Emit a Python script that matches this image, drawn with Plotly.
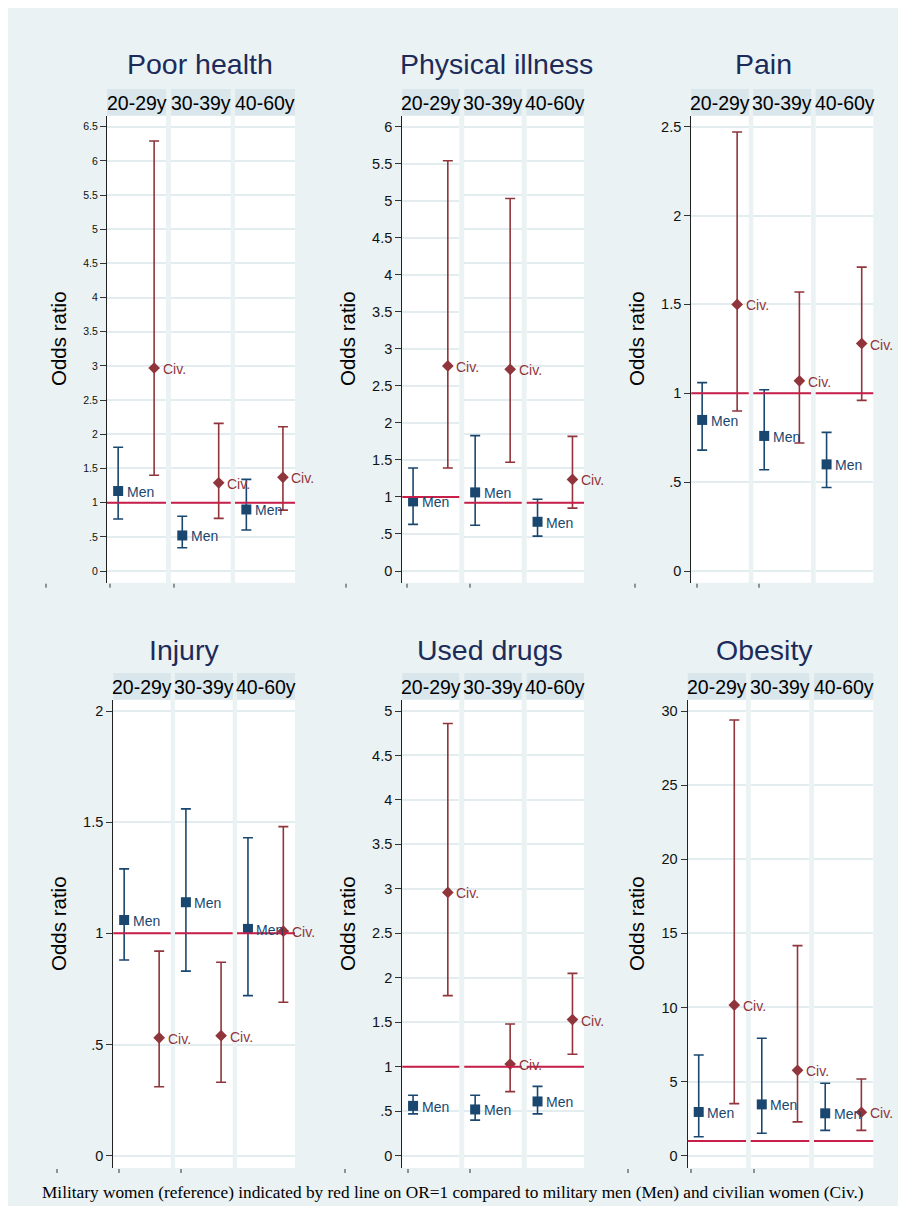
import plotly.graph_objects as go

# ---------------- data ----------------
panels = ["Poor health", "Physical illness", "Pain", "Injury", "Used drugs", "Obesity"]
age_groups = ["20-29y", "30-39y", "40-60y"]

# Odds ratios and 95% CI, military men vs military women (reference)
men_or = [[1.17, 0.52, 0.90], [0.94, 1.15, 0.72], [0.85, 0.76, 0.60],
          [1.06, 1.14, 1.02], [0.56, 0.52, 0.61], [2.95, 3.46, 2.86]]
men_lo = [[0.76, 0.34, 0.60], [0.63, 0.67, 0.51], [0.68, 0.57, 0.47],
          [0.88, 0.83, 0.72], [0.47, 0.40, 0.47], [1.28, 1.51, 1.71]]
men_hi = [[1.81, 0.80, 1.34], [1.39, 1.98, 1.05], [1.06, 1.02, 0.78],
          [1.29, 1.56, 1.43], [0.68, 0.68, 0.78], [6.79, 7.92, 4.89]]

# Odds ratios and 95% CI, civilian women vs military women (reference)
civ_or = [[2.97, 1.29, 1.37], [2.77, 2.95, 1.34], [1.50, 1.07, 1.28],
          [0.53, 0.54, 1.01], [2.96, 1.03, 1.53], [10.16, 5.76, 2.93]]
civ_lo = [[1.40, 0.77, 0.89], [1.39, 1.59, 0.92], [0.90, 0.72, 0.96],
          [0.31, 0.33, 0.69], [1.80, 0.72, 1.14], [3.51, 2.28, 1.71]]
civ_hi = [[6.29, 2.16, 2.11], [5.54, 5.45, 1.97], [2.47, 1.57, 1.71],
          [0.92, 0.87, 1.48], [4.86, 1.48, 2.05], [29.39, 14.17, 5.17]]

group_labels = ["Men", "Civ."]
reference_or = 1

# y-axis ticks per panel (max, step)
tick_max = [6.5, 6, 2.5, 2, 5, 30]
tick_step = [0.5, 0.5, 0.5, 0.5, 0.5, 5]
# axis maximum actually used by each sub-panel (Physical illness quirk)
sub_axis_max = [[6.5, 6.5, 6.5], [6, 6.5, 6.5], [2.5, 2.5, 2.5],
                [2, 2, 2], [5, 5, 5], [30, 30, 30]]

footnote = ("Military women (reference) indicated by red line on OR=1 compared to "
            "military men (Men) and civilian women (Civ.)")

# ---------------- styling / layout ----------------
W, H, OFF = 890, 1198, 8
def px(X):
    return (X - OFF) / W
def py(Y):
    return 1 - (Y - OFF) / H

BG = "#eaf2f3"
STRIP = "#d9e6eb"
NAVY = "#1a476f"
MAROON = "#90353b"
REDLINE = "#c81e4a"
TITLE = "#1c2b5a"
SANS = "Liberation Sans"

# sub-panel x extents (page px) per panel
sub_x = [
    [(107, 166), (171, 230.7), (235, 295)],
    [(402.3, 459.3), (464.3, 521.7), (526.7, 584)],
    [(691.3, 748.7), (753.3, 811), (815.7, 873.3)],
    [(113.3, 170.7), (175, 232.7), (237, 295)],
    [(402.3, 459.3), (464.3, 521.7), (526.7, 584)],
    [(687.7, 746), (750.7, 809.3), (814, 873.3)],
]
# row geometry: plot top, plot bottom, tick-top px, zero px, strip top
rows = [dict(top=116, bot=582.7, ttop=126.7, zero=571, strip=89),
        dict(top=700, bot=1168, ttop=711, zero=1155.7, strip=673)]
title_pos = [(200, 64), (497, 64), (763, 64), (184, 650), (490, 650), (764, 650)]
ytitle_x = [58, 347, 636, 58, 347, 636]
ytitle_y = [339, 339, 339, 924, 924, 924]
xtick_marks = [[46, 110, 174], [346, 407, 470], [635, 697, 759],
               [57, 119, 181], [345, 408, 470], [628, 691, 754]]

def fmt(v):
    if abs(v - round(v)) < 1e-9:
        return str(int(round(v)))
    s = ("%g" % v)
    return s[1:] if s.startswith("0.") else s

fig = go.Figure()
layout = dict(width=W, height=H, margin=dict(l=0, r=0, t=0, b=0),
              paper_bgcolor=BG, plot_bgcolor="white", showlegend=False)
shapes, annotations = [], []

for p, name in enumerate(panels):
    row = rows[p // 3]
    nt = int(round(tick_max[p] / tick_step[p]))
    tvals = [i * tick_step[p] for i in range(nt + 1)]
    ttext = [fmt(v) for v in tvals]
    for s in range(3):
        k = p * 3 + s + 1
        xa = "xaxis" if k == 1 else "xaxis%d" % k
        ya = "yaxis" if k == 1 else "yaxis%d" % k
        xr = "x" if k == 1 else "x%d" % k
        yr = "y" if k == 1 else "y%d" % k
        x0, x1 = sub_x[p][s]
        amax = sub_axis_max[p][s]
        ppu = (row["zero"] - row["ttop"]) / amax
        lo = (row["zero"] - row["bot"]) / ppu
        hi = (row["zero"] - row["top"]) / ppu
        layout[xa] = dict(domain=[px(x0), px(x1)], range=[0.69, 2.33], anchor=yr,
                          visible=False, fixedrange=True)
        ntv = int(round(amax / tick_step[p]))
        gvals = [i * tick_step[p] for i in range(ntv + 1)]
        ydict = dict(domain=[py(row["bot"]), py(row["top"])], range=[lo, hi], anchor=xr,
                     showgrid=True, gridcolor="#e3ecef", gridwidth=1.5, zeroline=False,
                     fixedrange=True)
        if s == 0:
            ydict.update(tickmode="array", tickvals=tvals, ticktext=ttext,
                         ticks="outside", ticklen=6, tickcolor="#333", tickwidth=1,
                         showline=True, linecolor="#222", linewidth=1.3,
                         tickfont=dict(family=SANS, size=10.5 if p == 0 else 14.5, color="#111"))
        else:
            ydict.update(tickmode="array", tickvals=gvals, showticklabels=False,
                         ticks="", showline=False)
        layout[ya] = ydict

        # reference line at OR = 1
        shapes.append(dict(type="line", xref=xr + " domain", yref=yr, x0=0, x1=1,
                           y0=reference_or, y1=reference_or,
                           line=dict(color=REDLINE, width=2), layer="above"))

        groups = [
            (1, men_or[p][s], men_lo[p][s], men_hi[p][s], NAVY, "square", 10),
            (2, civ_or[p][s], civ_lo[p][s], civ_hi[p][s], MAROON, "diamond", 9),
        ]
        for gi, (xv, v, lo_v, hi_v, col, sym, msz) in enumerate(groups):
            fig.add_trace(go.Scatter(
                x=[xv], y=[v], xaxis=xr, yaxis=yr, mode="markers", cliponaxis=False,
                marker=dict(symbol=sym, size=msz, color=col),
                error_y=dict(type="data", symmetric=False,
                             array=[hi_v - v], arrayminus=[v - lo_v],
                             color=col, thickness=1.6, width=5)))
            annotations.append(dict(text=group_labels[gi], xref=xr, yref=yr, x=xv, y=v,
                                    xanchor="left", yanchor="middle", xshift=6.5, yshift=-1,
                                    showarrow=False,
                                    font=dict(family=SANS, size=14, color=col)))

        # strip
        shapes.append(dict(type="rect", xref="paper", yref="paper",
                           x0=px(x0), x1=px(x1), y0=py(row["top"] - 0.5), y1=py(row["strip"]),
                           fillcolor=STRIP, line=dict(width=0), layer="below"))
        annotations.append(dict(text=age_groups[s], xref="paper", yref="paper",
                                x=px((x0 + x1) / 2), y=py((row["strip"] + row["top"]) / 2),
                                xanchor="center", yanchor="middle", showarrow=False,
                                font=dict(family=SANS, size=19.5, color="black")))

    # panel title
    tx, ty = title_pos[p]
    annotations.append(dict(text=name, xref="paper", yref="paper", x=px(tx), y=py(ty),
                            xanchor="center", yanchor="middle", showarrow=False,
                            font=dict(family=SANS, size=28.5, color=TITLE)))
    # y title
    annotations.append(dict(text="Odds ratio", xref="paper", yref="paper",
                            x=px(ytitle_x[p]), y=py(ytitle_y[p]), textangle=-90,
                            xanchor="center", yanchor="middle", showarrow=False,
                            font=dict(family=SANS, size=20.5, color="black")))
    # small stray x ticks below panel
    for xt in xtick_marks[p]:
        shapes.append(dict(type="line", xref="paper", yref="paper",
                           x0=px(xt), x1=px(xt), y0=py(row["bot"] + 1), y1=py(row["bot"] + 5),
                           line=dict(color="#333", width=1)))

annotations.append(dict(text=footnote, xref="paper", yref="paper", x=px(453), y=py(1192),
                        xanchor="center", yanchor="middle", showarrow=False,
                        font=dict(family="Liberation Serif", size=17.3, color="black")))

layout["shapes"] = shapes
layout["annotations"] = annotations
fig.update_layout(**layout)
fig.write_html("out.html")
